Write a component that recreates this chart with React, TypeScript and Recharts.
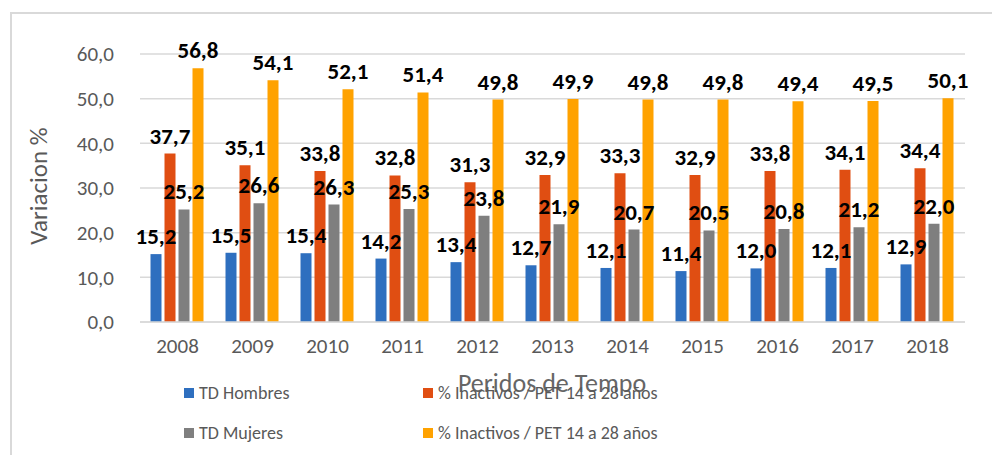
import React, { useEffect } from 'react';
import { BarChart, Bar, XAxis, YAxis, CartesianGrid, LabelList } from 'recharts';

const years = ['2008', '2009', '2010', '2011', '2012', '2013', '2014', '2015', '2016', '2017', '2018'];
const tdHombres = [15.2, 15.5, 15.4, 14.2, 13.4, 12.7, 12.1, 11.4, 12.0, 12.1, 12.9];
const inactivosA = [37.7, 35.1, 33.8, 32.8, 31.3, 32.9, 33.3, 32.9, 33.8, 34.1, 34.4];
const tdMujeres = [25.2, 26.6, 26.3, 25.3, 23.8, 21.9, 20.7, 20.5, 20.8, 21.2, 22.0];
const inactivosB = [56.8, 54.1, 52.1, 51.4, 49.8, 49.9, 49.8, 49.8, 49.4, 49.5, 50.1];
const yTicks = [0, 10, 20, 30, 40, 50, 60];

const series = [
  { key: 'hombres', name: 'TD Hombres', color: '#2E6FBF' },
  { key: 'inactA', name: '% Inactivos / PET 14 a 28 años', color: '#E04E12' },
  { key: 'mujeres', name: 'TD Mujeres', color: '#7F7F7F' },
  { key: 'inactB', name: '% Inactivos / PET 14 a 28 años', color: '#FFA200' },
];

const data = years.map((year, i) => ({
  year,
  hombres: tdHombres[i],
  inactA: inactivosA[i],
  mujeres: tdMujeres[i],
  inactB: inactivosB[i],
}));

const fmt = (v: number) => v.toFixed(1).replace('.', ',');
const font = 'Calibri, Carlito, "Open Sans", sans-serif';

// legend order in the picture: column 1 = hombres, mujeres; column 2 = inactA, inactB
const legendPos = [
  { left: 184, top: 382 },
  { left: 423, top: 382 },
  { left: 184, top: 422 },
  { left: 423, top: 422 },
];

export default function App() {
  useEffect(() => {
    document.body.style.margin = '0';
  }, []);

  return (
    <div style={{ position: 'relative', width: 992, height: 455, background: '#fff', fontFamily: font, overflow: 'hidden' }}>
      <div
        style={{
          position: 'absolute',
          left: 10,
          top: 12,
          width: 1000,
          height: 460,
          borderTop: '2px solid #D9D9D9',
          borderLeft: '2px solid #D9D9D9',
        }}
      />
      <BarChart
        width={992}
        height={455}
        data={data}
        margin={{ top: 54, right: 27, left: 0, bottom: 103 }}
        barCategoryGap="14%"
        barGap={3}
        style={{ position: 'absolute', left: 0, top: 0 }}
      >
        <CartesianGrid vertical={false} stroke="#D9D9D9" strokeWidth={1.5} />
        <XAxis
          dataKey="year"
          height={30}
          axisLine={{ stroke: '#D9D9D9', strokeWidth: 1.5 }}
          tickLine={false}
          tick={{ fill: '#595959', fontSize: 21, fontFamily: font }}
          tickMargin={10}
        />
        <YAxis
          width={140}
          domain={[0, 60]}
          ticks={yTicks}
          tickFormatter={fmt}
          axisLine={false}
          tickLine={false}
          tick={{ fill: '#595959', fontSize: 21, fontFamily: font }}
          tickMargin={20}
          label={{
            value: 'Variacion %',
            angle: -90,
            position: 'insideLeft',
            offset: 38,
            dy: -2,
            style: { fill: '#595959', fontSize: 25, fontFamily: font, textAnchor: 'middle' },
          }}
        />
        {series.map((s) => (
          <Bar key={s.key} dataKey={s.key} name={s.name} fill={s.color} isAnimationActive={false}>
            <LabelList
              dataKey={s.key}
              position="top"
              offset={10}
              formatter={(v: any) => fmt(Number(v))}
              style={{ fill: '#000', fontSize: 23, fontWeight: 700, fontFamily: font }}
            />
          </Bar>
        ))}
      </BarChart>
      <div
        style={{
          position: 'absolute',
          left: 352,
          top: 367,
          width: 400,
          textAlign: 'center',
          fontSize: 26,
          color: '#666666',
        }}
      >
        Peridos de Tempo
      </div>
      {series.map((s, i) => (
        <div
          key={s.key}
          style={{
            position: 'absolute',
            left: legendPos[i].left,
            top: legendPos[i].top,
            display: 'flex',
            alignItems: 'center',
            fontSize: 18,
            color: '#595959',
            whiteSpace: 'nowrap',
          }}
        >
          <span style={{ display: 'inline-block', width: 10, height: 10, background: s.color, marginRight: 5 }} />
          {s.name}
        </div>
      ))}
    </div>
  );
}
